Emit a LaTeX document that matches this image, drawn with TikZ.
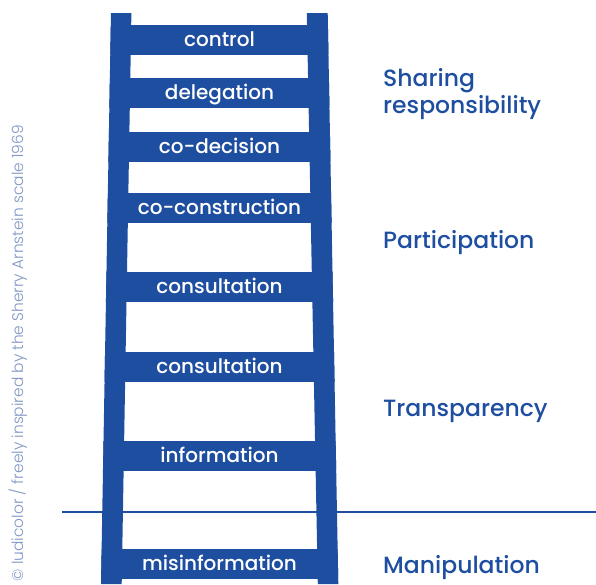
\documentclass[tikz,border=0pt]{standalone}
\usepackage{fontspec}
\setmainfont{Poppins Medium}
\newfontfamily\lightfont{Poppins Light}
\definecolor{ladderblue}{RGB}{30,78,160}
\definecolor{creditblue}{RGB}{128,150,196}
\begin{document}
\begin{tikzpicture}[x=1pt,y=-1pt,
  rungtext/.style={text=white, font=\fontsize{20}{20}\selectfont, anchor=base, inner sep=0pt},
  stagetext/.style={text=ladderblue, font=\fontsize{23.5}{27}\selectfont, anchor=base west, inner sep=0pt, align=left},
  credittext/.style={text=creditblue, font=\lightfont\fontsize{15.4}{15.4}\selectfont, rotate=90, anchor=base east, inner sep=0pt},
  divider/.style={draw=ladderblue, line width=2pt}
]
\useasboundingbox (0,0) rectangle (596,584);
% ladder rails
\fill[ladderblue] (111,13) -- (131.4,13) -- (121.7,584) -- (101,584) -- cycle;
\fill[ladderblue] (306.8,13) -- (327.7,13) -- (338.3,584) -- (317.8,584) -- cycle;
% ladder rungs, clipped to the outline of the ladder
\begin{scope}
  \clip (111,13) -- (327.7,13) -- (338.3,584) -- (101,584) -- cycle;
  \foreach \ya/\yb in {25/55, 78/108, 132/162, 193/223, 272/302, 352/382, 441/471, 549/579}
    \fill[ladderblue] (90,\ya) rectangle (350,\yb);
\end{scope}
% rung labels
\node[rungtext] (control)   at (219.5,46.5) {control};
\node[rungtext] (delegation) at (219.5,99) {delegation};
\node[rungtext] (codecision) at (219.5,153) {co-decision};
\node[rungtext] (coconstr)  at (219.5,214) {co-construction};
\node[rungtext] (consultA)  at (219.5,293) {consultation};
\node[rungtext] (consultB)  at (219.5,373) {consultation};
\node[rungtext] (information) at (219.5,462) {information};
\node[rungtext] (misinfo)   at (219.5,570) {misinformation};
% stage labels (a two-line node sits on the baseline of its last line)
\node[stagetext] (sharing) at (383,113) {Sharing\\responsibility};
\node[stagetext] (participation) at (383,248) {Participation};
\node[stagetext] (transparency) at (383,416) {Transparency};
\node[stagetext] (manipulation) at (383,573) {Manipulation};
% divider between manipulation and the upper rungs
\coordinate (divL) at (62,512);
\coordinate (divR) at (596,512);
\draw[divider] (divL) -- (divR);
% credit line
\node[credittext] (credit) at (23,125) {© ludicolor / freely inspired by the Sherry Arnstein scale 1969};
\end{tikzpicture}
\end{document}
